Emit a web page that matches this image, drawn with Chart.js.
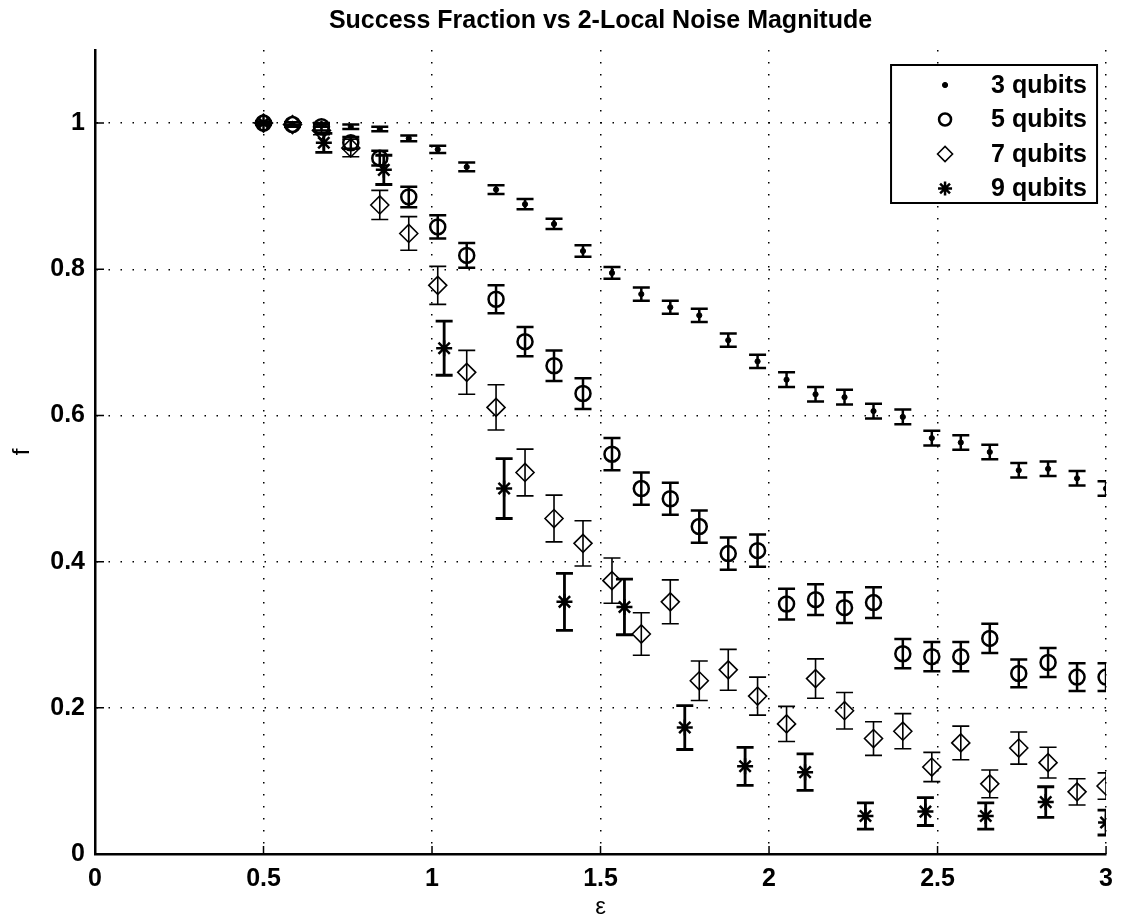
<!DOCTYPE html>
<html>
<head>
<meta charset="utf-8">
<script src="https://cdn.jsdelivr.net/npm/chart.js@4.4.1/dist/chart.umd.min.js"></script>
<style>
  html, body { margin: 0; padding: 0; background: #fff; }
  #wrap { width: 1123px; height: 922px; }
</style>
</head>
<body>
<div id="wrap"><canvas id="chart" width="1123" height="922"></canvas></div>
<script>
'use strict';

// noise magnitude values (x) for 3/5/7 qubit runs and for the 9 qubit runs
const eps = [0.5, 0.586, 0.672, 0.759, 0.845, 0.931, 1.017, 1.103, 1.19, 1.276,
             1.362, 1.448, 1.534, 1.621, 1.707, 1.793, 1.879, 1.966, 2.052, 2.138,
             2.224, 2.31, 2.397, 2.483, 2.569, 2.655, 2.741, 2.828, 2.914, 3.0];
const eps9 = [0.5, 0.679, 0.857, 1.036, 1.214, 1.393, 1.571, 1.75, 1.929, 2.107,
              2.286, 2.464, 2.643, 2.821, 3.0];

const f3 = [1.0, 0.999, 0.997, 0.995, 0.992, 0.979, 0.964, 0.940, 0.909, 0.889,
            0.862, 0.825, 0.795, 0.766, 0.748, 0.737, 0.703, 0.674, 0.649, 0.629,
            0.625, 0.606, 0.598, 0.569, 0.563, 0.550, 0.525, 0.527, 0.514, 0.500];
const err3 = [0.001, 0.002, 0.002, 0.003, 0.003, 0.004, 0.005, 0.006, 0.006, 0.007,
              0.007, 0.008, 0.008, 0.009, 0.009, 0.009, 0.009, 0.009, 0.010, 0.010,
              0.010, 0.010, 0.010, 0.010, 0.010, 0.010, 0.010, 0.010, 0.010, 0.010];

const f5 = [1.0, 0.998, 0.995, 0.973, 0.952, 0.899, 0.858, 0.819, 0.759, 0.701,
            0.668, 0.630, 0.547, 0.500, 0.486, 0.448, 0.411, 0.415, 0.342, 0.348,
            0.337, 0.344, 0.274, 0.270, 0.270, 0.295, 0.247, 0.262, 0.242, 0.242];
const err5 = [0.002, 0.003, 0.005, 0.008, 0.010, 0.014, 0.016, 0.017, 0.019, 0.020,
              0.021, 0.021, 0.022, 0.022, 0.022, 0.022, 0.022, 0.022, 0.021, 0.021,
              0.021, 0.021, 0.020, 0.020, 0.020, 0.020, 0.019, 0.020, 0.019, 0.019];

const f7 = [1.0, 0.998, 0.990, 0.966, 0.888, 0.849, 0.778, 0.659, 0.611, 0.522,
            0.459, 0.425, 0.374, 0.301, 0.345, 0.237, 0.252, 0.216, 0.178, 0.240,
            0.196, 0.158, 0.168, 0.119, 0.152, 0.096, 0.145, 0.125, 0.085, 0.093];
const err7 = [0.002, 0.003, 0.006, 0.012, 0.020, 0.023, 0.026, 0.030, 0.031, 0.032,
              0.032, 0.031, 0.031, 0.029, 0.030, 0.027, 0.028, 0.026, 0.024, 0.027,
              0.025, 0.023, 0.024, 0.020, 0.023, 0.019, 0.022, 0.021, 0.018, 0.018];

const f9 = [1.0, 0.973, 0.936, 0.692, 0.500, 0.345, 0.338, 0.173, 0.120, 0.112,
            0.052, 0.058, 0.052, 0.071, 0.043];
const err9 = [0.002, 0.013, 0.020, 0.037, 0.041, 0.039, 0.038, 0.030, 0.026, 0.025,
              0.018, 0.019, 0.018, 0.021, 0.017];

const xTicks = [0, 0.5, 1, 1.5, 2, 2.5, 3];
const yTicks = [0, 0.2, 0.4, 0.6, 0.8, 1];

const FONT = '"Liberation Sans", Arial, Helvetica, sans-serif';
Chart.defaults.font.family = FONT;
Chart.defaults.color = '#000';

function pts(xs, ys) {
    return xs.map((x, i) => ({ x: x, y: ys[i] }));
}

// vertical error bars with caps, drawn under each dataset's markers
const errorBars = {
    id: 'errorBars',
    beforeDatasetDraw(chart, args) {
        const ds = chart.data.datasets[args.index];
        if (!ds.errors) return;
        const { ctx, chartArea, scales: { x, y } } = chart;
        const cap = 8.5;
        ctx.save();
        ctx.beginPath();
        ctx.rect(chartArea.left, chartArea.top, chartArea.right - chartArea.left, chartArea.bottom - chartArea.top);
        ctx.clip();
        ctx.strokeStyle = '#000';
        ctx.lineWidth = ds.errorWidth;
        ds.data.forEach((p, i) => {
            const e = ds.errors[i];
            const px = x.getPixelForValue(p.x);
            const top = y.getPixelForValue(p.y + e);
            const bot = y.getPixelForValue(p.y - e);
            ctx.beginPath();
            ctx.moveTo(px, top); ctx.lineTo(px, bot);
            ctx.moveTo(px - cap, top); ctx.lineTo(px + cap, top);
            ctx.moveTo(px - cap, bot); ctx.lineTo(px + cap, bot);
            ctx.stroke();
        });
        ctx.restore();
    }
};

// inward tick marks and the boxed legend in the upper right corner
const axesAndLegend = {
    id: 'axesAndLegend',
    afterDatasetsDraw(chart) {
        const { ctx, chartArea, scales: { x, y } } = chart;
        ctx.save();
        ctx.strokeStyle = '#000';
        ctx.lineWidth = 1.5;
        ctx.beginPath();
        x.ticks.forEach(t => {
            const px = x.getPixelForValue(t.value);
            ctx.moveTo(px, chartArea.bottom); ctx.lineTo(px, chartArea.bottom - 8);
        });
        y.ticks.forEach(t => {
            const py = y.getPixelForValue(t.value);
            ctx.moveTo(chartArea.left, py); ctx.lineTo(chartArea.left + 9, py);
        });
        ctx.stroke();

        const w = 206, h = 138;
        const left = chartArea.right - 9 - w, top = chartArea.top + 15;
        ctx.fillStyle = '#fff';
        ctx.fillRect(left, top, w, h);
        ctx.lineWidth = 2;
        ctx.strokeRect(left, top, w, h);
        ctx.font = 'bold 25px ' + FONT;
        ctx.textBaseline = 'middle';
        ctx.textAlign = 'left';
        chart.data.datasets.forEach((ds, i) => {
            const cy = top + 20 + i * 34.5;
            ctx.fillStyle = ds.backgroundColor;
            ctx.strokeStyle = '#000';
            ctx.lineWidth = ds.borderWidth;
            Chart.helpers.drawPoint(ctx, {
                pointStyle: ds.pointStyle,
                radius: ds.legendRadius,
                borderWidth: ds.borderWidth,
                rotation: 0
            }, left + 54, cy);
            ctx.fillStyle = '#000';
            ctx.fillText(ds.label, left + 100, cy + 1);
        });
        ctx.restore();
    }
};

const ctx = document.getElementById('chart').getContext('2d');

new Chart(ctx, {
    type: 'scatter',
    data: {
        datasets: [
            {
                label: '3 qubits',
                data: pts(eps, f3),
                errors: err3,
                errorWidth: 2.5,
                pointStyle: 'circle',
                pointRadius: 2.6,
                legendRadius: 2.6,
                borderWidth: 1,
                borderColor: '#000',
                backgroundColor: '#000',
                clip: 0,
                order: 4
            },
            {
                label: '5 qubits',
                data: pts(eps, f5),
                errors: err5,
                errorWidth: 2.5,
                pointStyle: 'circle',
                pointRadius: 7.5,
                legendRadius: 6,
                borderWidth: 2.5,
                borderColor: '#000',
                backgroundColor: 'rgba(0,0,0,0)',
                clip: 0,
                order: 3
            },
            {
                label: '7 qubits',
                data: pts(eps, f7),
                errors: err7,
                errorWidth: 1.6,
                pointStyle: 'rectRot',
                pointRadius: 9,
                legendRadius: 7.5,
                borderWidth: 1.6,
                borderColor: '#000',
                backgroundColor: 'rgba(0,0,0,0)',
                clip: 0,
                order: 2
            },
            {
                label: '9 qubits',
                data: pts(eps9, f9),
                errors: err9,
                errorWidth: 2.8,
                pointStyle: 'star',
                pointRadius: 8,
                legendRadius: 7,
                borderWidth: 2.5,
                borderColor: '#000',
                backgroundColor: 'rgba(0,0,0,0)',
                clip: 0,
                order: 1
            }
        ]
    },
    options: {
        responsive: false,
        animation: false,
        events: [],
        layout: { padding: { left: 0, right: 15, top: 0, bottom: 0 } },
        plugins: {
            legend: { display: false },
            tooltip: { enabled: false },
            title: {
                display: true,
                text: 'Success Fraction vs 2-Local Noise Magnitude',
                fullSize: false,
                color: '#000',
                font: { size: 25, weight: 'bold' },
                padding: { top: 6, bottom: 14 }
            }
        },
        scales: {
            x: {
                type: 'linear',
                position: 'bottom',
                min: 0,
                max: 3,
                afterBuildTicks: s => { s.ticks = xTicks.map(v => ({ value: v })); },
                afterFit: s => { s.height = 68; },
                ticks: {
                    padding: 10,
                    color: '#000',
                    font: { size: 25, weight: 'bold' },
                    callback: v => String(v)
                },
                grid: { color: '#000', lineWidth: 1.5, drawTicks: false },
                border: { display: true, color: '#000', width: 2.5, dash: [1.5, 10.5] },
                title: {
                    display: true,
                    text: 'ε',
                    color: '#000',
                    font: { size: 24 },
                    padding: { top: 0, bottom: 0 }
                }
            },
            y: {
                type: 'linear',
                position: 'left',
                min: 0,
                max: 1.1,
                afterBuildTicks: s => { s.ticks = yTicks.map(v => ({ value: v })); },
                afterFit: s => { s.width = 95; },
                ticks: {
                    padding: 10,
                    color: '#000',
                    font: { size: 25, weight: 'bold' },
                    callback: v => String(v)
                },
                grid: { color: '#000', lineWidth: 1.5, drawTicks: false },
                border: { display: true, color: '#000', width: 2.5, dash: [1.5, 10.5] },
                title: {
                    display: true,
                    text: 'f',
                    color: '#000',
                    font: { size: 24 },
                    padding: { top: 8, bottom: 0 }
                }
            }
        }
    },
    plugins: [errorBars, axesAndLegend]
});
</script>
</body>
</html>
